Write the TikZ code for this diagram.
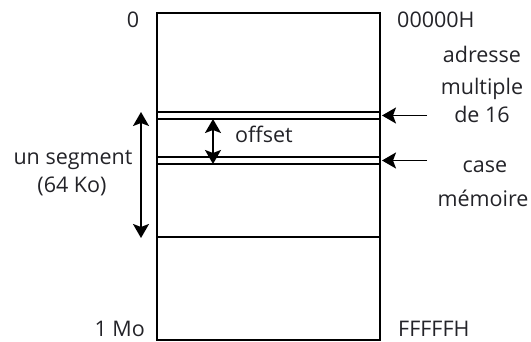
\documentclass[tikz,border=0pt]{standalone}
\usepackage{fontspec}
\setmainfont{Open Sans}
\usetikzlibrary{arrows.meta}
\definecolor{txt}{RGB}{35,35,40}
\tikzset{
  wall/.style={line width=1.8pt, black},
  tip/.tip={Stealth[length=14pt,width=16pt,inset=3pt]},
  arr/.style={line width=1.8pt, black, -tip},
  darr/.style={line width=1.8pt, black, tip-tip},
  lbl/.style={font=\fontsize{21.5}{26}\selectfont, text=txt, inner sep=0pt, anchor=base},
}
\begin{document}
\begin{tikzpicture}[x=1pt,y=-1pt]
\useasboundingbox (0,0) rectangle (531,342);
% memory block
\draw[wall] (157,13) rectangle (380,340);
\foreach \yy in {112,119,157,164,237} \draw[wall] (157,\yy) -- (380,\yy);
% coordinates
\coordinate (segtop) at (141,112);
\coordinate (segbot) at (141,238);
\coordinate (offtop) at (213,119);
\coordinate (offbot) at (213,164);
\coordinate (a1s) at (427,115.5);
\coordinate (a1e) at (382,115.5);
\coordinate (a2s) at (427,160.5);
\coordinate (a2e) at (382,160.5);
% arrows
\draw[darr] (segtop) -- (segbot);
\draw[darr] (offtop) -- (offbot);
\draw[arr] (a1s) -- (a1e);
\draw[arr] (a2s) -- (a2e);
% labels
\node[lbl] (zero) at (133,28) {0};
\node[lbl, anchor=base west] (start) at (397,28) {00000H};
\node[lbl] (adr1) at (482,63) {adresse};
\node[lbl] (adr2) at (482,95) {multiple};
\node[lbl] (adr3) at (482,123) {de 16};
\node[lbl] (case1) at (485,173) {case};
\node[lbl] (case2) at (483,207) {mémoire};
\node[lbl, anchor=base west] (off) at (235,143) {offset};
\node[lbl] (seg1) at (73,165) {un segment};
\node[lbl] (seg2) at (72,193) {(64 Ko)};
\node[lbl, anchor=base east] (mo) at (145,337) {1 Mo};
\node[lbl, anchor=base west] (end) at (398,337) {FFFFFH};
\end{tikzpicture}
\end{document}
